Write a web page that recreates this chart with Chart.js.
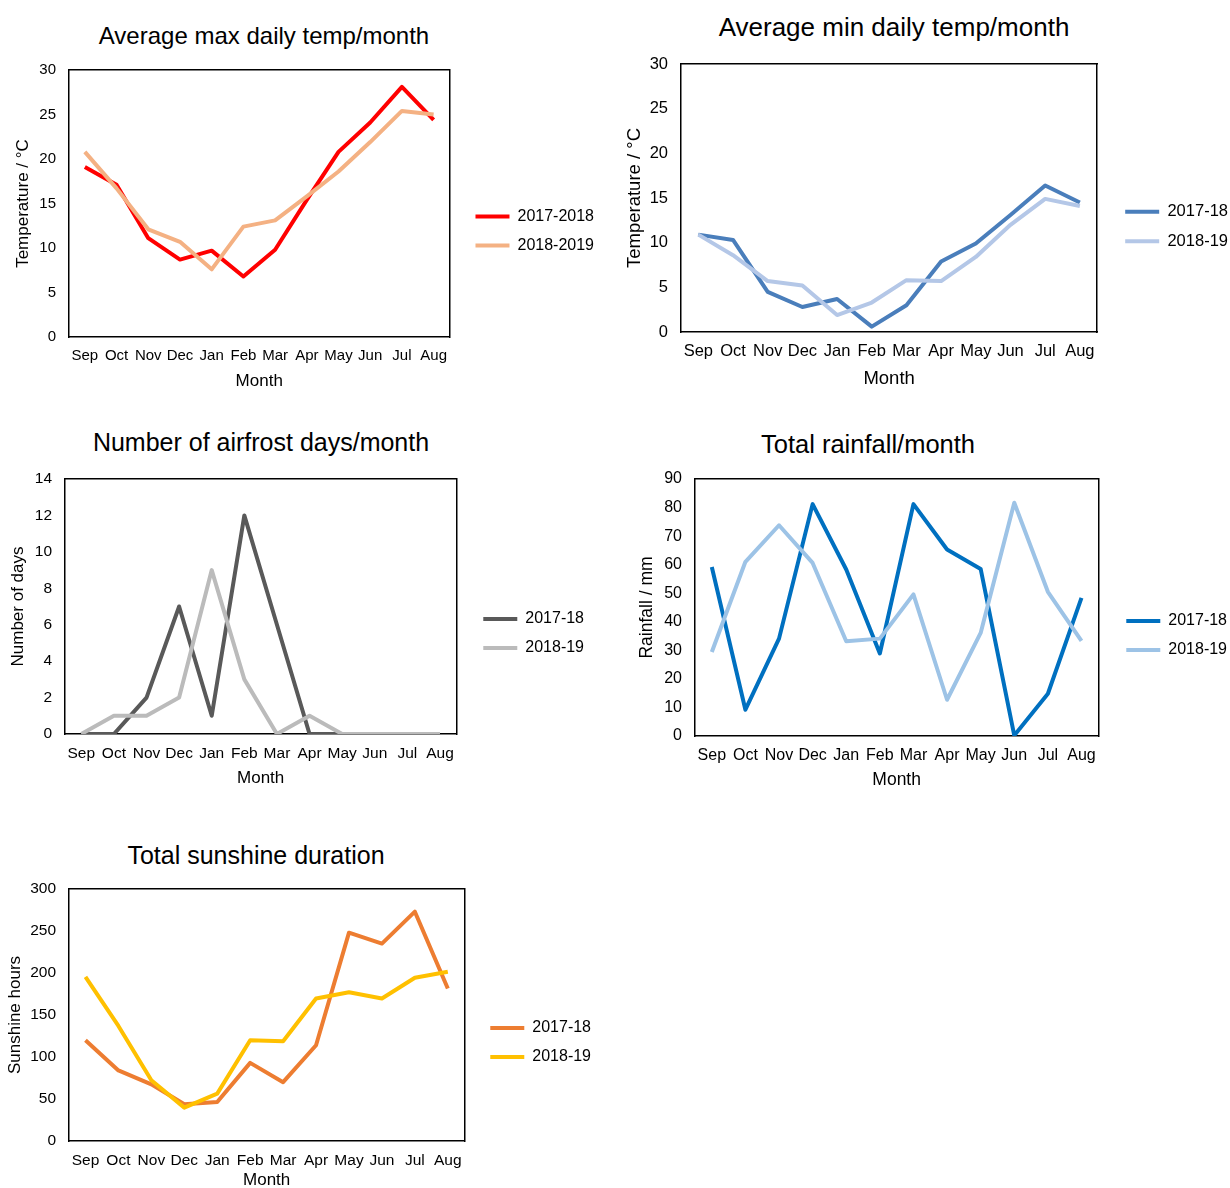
<!DOCTYPE html>
<html>
<head>
<meta charset="utf-8">
<title>Weather summary 2017-2019</title>
<script src="https://cdn.jsdelivr.net/npm/chart.js@4.4.1/dist/chart.umd.min.js"></script>
<style>
  html, body { margin: 0; padding: 0; background: #fff; overflow: hidden; }
  body { position: relative; width: 1230px; height: 1188px; font-family: "Liberation Sans", Arial, sans-serif; }
  .chart-title { position: absolute; width: 500px; text-align: center; font-size: 24px; line-height: 28px; color: #000; white-space: nowrap; }
  canvas { position: absolute; }
</style>
</head>
<body>
  <!-- Titles -->
  <div class="chart-title" style="left: 14px; top: 22px;">Average max daily temp/month</div>
  <div class="chart-title" style="left: 644px; top: 13px; font-size: 26px;">Average min daily temp/month</div>
  <div class="chart-title" style="left: 11px; top: 428px; font-size: 25px;">Number of airfrost days/month</div>
  <div class="chart-title" style="left: 618px; top: 430px; font-size: 25.5px;">Total rainfall/month</div>
  <div class="chart-title" style="left: 6px; top: 841px; font-size: 25px;">Total sunshine duration</div>

  <!-- Charts -->
  <canvas id="maxTemp" width="604" height="370" style="left: 0; top: 46px;"></canvas>
  <canvas id="minTemp" width="618" height="373" style="left: 620px; top: 40px;"></canvas>
  <canvas id="airfrost" width="594" height="357" style="left: 0; top: 455px;"></canvas>
  <canvas id="rainfall" width="607" height="361" style="left: 630px; top: 455px;"></canvas>
  <canvas id="sunshine" width="601" height="355" style="left: 0; top: 865px;"></canvas>

<script>
const months = ["Sep", "Oct", "Nov", "Dec", "Jan", "Feb", "Mar", "Apr", "May", "Jun", "Jul", "Aug"];

const maxTemp1718 = [19.1, 17.1, 11.1, 8.7, 9.7, 6.8, 9.8, 15.4, 20.8, 24.1, 28.1, 24.4];
const maxTemp1819 = [20.8, 16.7, 12.1, 10.7, 7.6, 12.4, 13.1, 15.8, 18.6, 21.9, 25.4, 25.0];

const minTemp1718 = [10.9, 10.3, 4.5, 2.8, 3.7, 0.6, 3.0, 7.9, 9.9, 13.1, 16.4, 14.5];
const minTemp1819 = [10.9, 8.6, 5.7, 5.2, 1.9, 3.3, 5.8, 5.7, 8.4, 12.0, 14.9, 14.1];

const airfrost1718 = [0, 0, 2, 7, 1, 12, 6, 0, 0, 0, 0, 0];
const airfrost1819 = [0, 1, 1, 2, 9, 3, 0, 1, 0, 0, 0, 0];

const rainfall1718 = [59.2, 9.2, 34.1, 81.2, 58.3, 28.9, 81.2, 65.3, 58.5, 0.2, 14.8, 48.4];
const rainfall1819 = [29.4, 61.0, 73.8, 60.6, 33.2, 34.1, 49.6, 12.7, 36.1, 81.7, 50.5, 33.3];

const sunshine1718 = [120, 84, 67.5, 43.7, 46.5, 93, 70, 114, 248, 235, 273, 181.6];
const sunshine1819 = [195.5, 137, 72.3, 39.7, 56.4, 120, 118.8, 169.7, 177, 169.7, 194.3, 201.4];

// min, max, step
const tempTicks = [0, 30, 5];
const airfrostTicks = [0, 14, 2];
const rainfallTicks = [0, 90, 10];
const sunshineTicks = [0, 300, 50];

Chart.defaults.font.family = '"Liberation Sans", Arial, sans-serif';
Chart.defaults.color = "#000";

const frame = { display: true, color: "#000", width: 1.5 };

function lineChart(id, cfg) {
  const ctx = document.getElementById(id).getContext("2d");
  return new Chart(ctx, {
    type: "line",
    data: {
      labels: months,
      datasets: [
        { label: cfg.names[0], data: cfg.series[0], borderColor: cfg.colors[0], backgroundColor: cfg.colors[0], order: 2 },
        { label: cfg.names[1], data: cfg.series[1], borderColor: cfg.colors[1], backgroundColor: cfg.colors[1], order: 1 },
      ],
    },
    options: {
      responsive: false,
      animation: false,
      layout: { padding: 0 },
      elements: {
        line: { borderWidth: 4, tension: 0, borderJoinStyle: "round" },
        // radius 0 hides the points, the border width is what the legend line uses
        point: { radius: 0, hoverRadius: 0, borderWidth: 4 },
      },
      scales: {
        x: {
          offset: true,
          grid: { display: false, drawTicks: false },
          border: frame,
          ticks: { font: { size: cfg.fonts[0] }, padding: 10, maxRotation: 0, autoSkip: false },
          title: { display: true, text: "Month", font: { size: cfg.fonts[1] }, padding: { top: 0, bottom: cfg.xTitlePad } },
          afterFit: (s) => { s.height = cfg.xHeight; },
        },
        xTop: {
          type: "category",
          position: "top",
          offset: true,
          grid: { display: false, drawTicks: false },
          ticks: { display: false },
          border: frame,
          afterFit: (s) => { s.height = 24; },
        },
        y: {
          min: cfg.ticks[0],
          max: cfg.ticks[1],
          grid: { display: false, drawTicks: false },
          border: frame,
          ticks: { stepSize: cfg.ticks[2], font: { size: cfg.fonts[0] }, padding: 13 },
          title: { display: true, text: cfg.yTitle, font: { size: cfg.fonts[1] }, padding: { top: cfg.yTitlePad, bottom: 0 } },
          afterFit: (s) => { s.width = cfg.yWidth; },
        },
        yRight: {
          type: "linear",
          position: "right",
          grid: { display: false, drawTicks: false },
          ticks: { display: false },
          border: frame,
          afterFit: (s) => { s.width = cfg.gap; },
        },
      },
      plugins: {
        legend: {
          position: "right",
          maxWidth: 300,
          labels: {
            usePointStyle: true,
            pointStyle: "line",
            pointStyleWidth: 34,
            padding: 13,
            font: { size: cfg.fonts[2] },
            sort: (a, b) => a.datasetIndex - b.datasetIndex,
          },
        },
        tooltip: { enabled: false },
      },
    },
  });
}

// fonts: [ticks, axis titles, legend]
lineChart("maxTemp", {
  names: ["2017-2018", "2018-2019"],
  series: [maxTemp1718, maxTemp1819],
  colors: ["#FF0000", "#F4B183"],
  ticks: tempTicks,
  yTitle: "Temperature / °C",
  fonts: [15, 17, 16],
  yWidth: 69, xHeight: 79, gap: 13, yTitlePad: 12.8, xTitlePad: 24.8,
});

lineChart("minTemp", {
  names: ["2017-18", "2018-19"],
  series: [minTemp1718, minTemp1819],
  colors: ["#4A7EBB", "#B4C7E7"],
  ticks: tempTicks,
  yTitle: "Temperature / °C",
  fonts: [16.5, 18.5, 16.5],
  yWidth: 61, xHeight: 81, gap: 15, yTitlePad: 3.9, xTitlePad: 22.9,
});

lineChart("airfrost", {
  names: ["2017-18", "2018-19"],
  series: [airfrost1718, airfrost1819],
  colors: ["#595959", "#BBBBBB"],
  ticks: airfrostTicks,
  yTitle: "Number of days",
  fonts: [15.5, 17, 16],
  yWidth: 65, xHeight: 78, gap: 14, yTitlePad: 7.8, xTitlePad: 23.8,
});

lineChart("rainfall", {
  names: ["2017-18", "2018-19"],
  series: [rainfall1718, rainfall1819],
  colors: ["#0070C0", "#9DC3E6"],
  ticks: rainfallTicks,
  yTitle: "Rainfall / mm",
  fonts: [16, 17.5, 16],
  yWidth: 65, xHeight: 80, gap: 15, yTitlePad: 6.5, xTitlePad: 25.5,
});

lineChart("sunshine", {
  names: ["2017-18", "2018-19"],
  series: [sunshine1718, sunshine1819],
  colors: ["#ED7D31", "#FFC000"],
  ticks: sunshineTicks,
  yTitle: "Sunshine hours",
  fonts: [15.5, 17, 16],
  yWidth: 69, xHeight: 79, gap: 13, yTitlePad: 4.8, xTitlePad: 29.8,
});
</script>
</body>
</html>
